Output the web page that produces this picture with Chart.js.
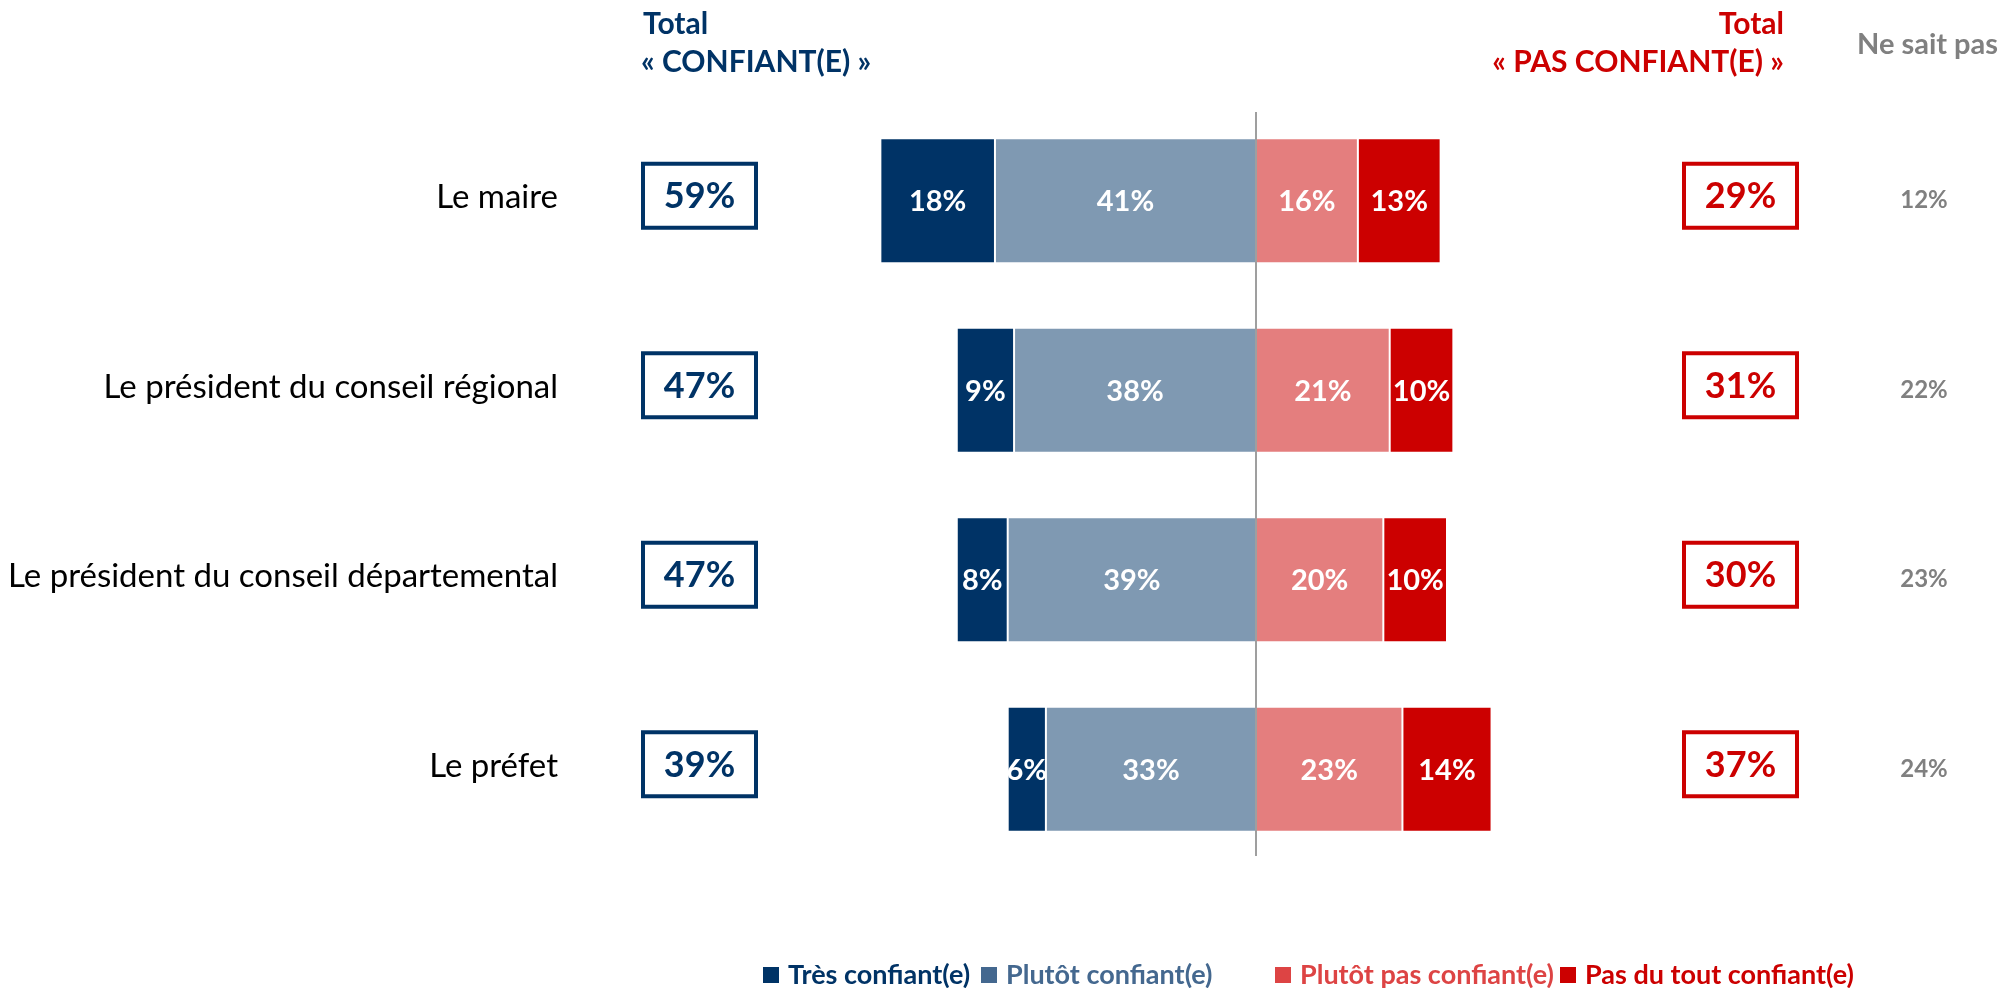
<!DOCTYPE html>
<html lang="fr">
<head>
<meta charset="utf-8">
<title>Confiance envers les élus</title>
<script src="https://cdn.jsdelivr.net/npm/chart.js@4.4.0/dist/chart.umd.min.js"></script>
<style>
  html, body { margin: 0; padding: 0; background: #fff; }
  #graphique { display: block; }
</style>
</head>
<body>
<canvas id="graphique" width="1998" height="988"></canvas>
<script>
// Données
const categories = ['Le maire', 'Le président du conseil régional', 'Le président du conseil départemental', 'Le préfet'];
const tresConfiant = [18, 9, 8, 6];
const plutotConfiant = [41, 38, 39, 33];
const plutotPasConfiant = [16, 21, 20, 23];
const pasDuToutConfiant = [13, 10, 10, 14];
const totalConfiant = [59, 47, 47, 39];
const totalPasConfiant = [29, 31, 30, 37];
const neSaitPas = [12, 22, 23, 24];

// Couleurs
const NAVY = '#003366';
const BLEU_CLAIR = '#7f99b2';
const ROSE = '#e47e7e';
const ROUGE = '#cc0000';
const GRIS = '#808080';
const FONT = 'Lato, "Open Sans", sans-serif';

const graficoEl = document.getElementById('graphique');

// Pourcentages blancs au centre des barres (coupés à la barre, comme l'original)
const etiquettesBarres = {
  id: 'etiquettesBarres',
  afterDatasetsDraw(chart) {
    const ctx = chart.ctx;
    chart.data.datasets.forEach((ds, di) => {
      const meta = chart.getDatasetMeta(di);
      meta.data.forEach((bar, i) => {
        const p = bar.getProps(['x', 'y', 'base', 'height'], true);
        const left = Math.min(p.x, p.base);
        const w = Math.abs(p.x - p.base);
        ctx.save();
        ctx.beginPath();
        ctx.rect(left, p.y - p.height / 2, w, p.height);
        ctx.clip();
        ctx.fillStyle = '#fff';
        ctx.font = 'bold 29px ' + FONT;
        ctx.textAlign = 'center';
        ctx.textBaseline = 'middle';
        ctx.fillText(ds.valeurs[i] + '%', left + w / 2, p.y + 1);
        ctx.restore();
      });
    });
  }
};

// Ligne verticale, libellés, totaux, en-têtes et légende
const decor = {
  id: 'decor',
  afterDraw(chart) {
    const ctx = chart.ctx;
    const xs = chart.scales.x;
    const ys = chart.scales.y;
    const x0 = xs.getPixelForValue(0);

    ctx.save();
    ctx.strokeStyle = '#7f7f7f';
    ctx.lineWidth = 1.5;
    ctx.beginPath();
    ctx.moveTo(x0, chart.chartArea.top + 6);
    ctx.lineTo(x0, chart.chartArea.bottom - 8);
    ctx.stroke();

    ctx.textBaseline = 'middle';
    categories.forEach((cat, i) => {
      const y = ys.getPixelForValue(i);

      ctx.fillStyle = '#000';
      ctx.font = '33px ' + FONT;
      ctx.textAlign = 'right';
      ctx.fillText(cat, 558, y - 3);

      // cadre total confiant
      ctx.lineWidth = 4;
      ctx.strokeStyle = NAVY;
      ctx.strokeRect(643, y - 37, 113, 64);
      ctx.fillStyle = NAVY;
      ctx.font = 'bold 36px ' + FONT;
      ctx.textAlign = 'center';
      ctx.fillText(totalConfiant[i] + '%', 699.5, y - 4);

      // cadre total pas confiant
      ctx.strokeStyle = ROUGE;
      ctx.strokeRect(1684, y - 37, 113, 64);
      ctx.fillStyle = ROUGE;
      ctx.fillText(totalPasConfiant[i] + '%', 1740.5, y - 4);

      // ne sait pas
      ctx.fillStyle = GRIS;
      ctx.font = 'bold 24px ' + FONT;
      ctx.fillText(neSaitPas[i] + '%', 1924, y);
    });

    // en-têtes
    ctx.font = 'bold 30px ' + FONT;
    ctx.textAlign = 'left';
    ctx.fillStyle = NAVY;
    ctx.fillText('Total', 643, 24);
    ctx.fillText('« CONFIANT(E) »', 641, 62);
    ctx.textAlign = 'right';
    ctx.fillStyle = ROUGE;
    ctx.fillText('Total', 1784, 24);
    ctx.fillText('« PAS CONFIANT(E) »', 1784, 62);
    ctx.textAlign = 'left';
    ctx.fillStyle = GRIS;
    ctx.font = 'bold 29px ' + FONT;
    ctx.fillText('Ne sait pas', 1857, 45);

    // légende
    const legende = [
      { txt: 'Très confiant(e)', carre: NAVY, coul: NAVY, x: 763 },
      { txt: 'Plutôt confiant(e)', carre: '#44688f', coul: '#44688f', x: 981 },
      { txt: 'Plutôt pas confiant(e)', carre: '#dd4444', coul: '#dd4444', x: 1275 },
      { txt: 'Pas du tout confiant(e)', carre: ROUGE, coul: ROUGE, x: 1560 }
    ];
    ctx.font = 'bold 27px ' + FONT;
    legende.forEach(l => {
      ctx.fillStyle = l.carre;
      ctx.fillRect(l.x, 967, 16, 16);
      ctx.fillStyle = l.coul;
      ctx.fillText(l.txt, l.x + 25, 975);
    });
    ctx.restore();
  }
};

// Jeux de données : valeurs négatives à gauche de l'axe
const datasets = [
  { label: 'Plutôt confiant(e)', valeurs: plutotConfiant, data: plutotConfiant.map(v => -v), backgroundColor: BLEU_CLAIR },
  { label: 'Très confiant(e)', valeurs: tresConfiant, data: tresConfiant.map(v => -v), backgroundColor: NAVY },
  { label: 'Plutôt pas confiant(e)', valeurs: plutotPasConfiant, data: plutotPasConfiant, backgroundColor: ROSE },
  { label: 'Pas du tout confiant(e)', valeurs: pasDuToutConfiant, data: pasDuToutConfiant, backgroundColor: ROUGE }
].map(d => Object.assign(d, {
  borderColor: '#ffffff',
  borderWidth: 1,
  borderSkipped: false,
  categoryPercentage: 1,
  barPercentage: 0.66
}));

new Chart(graficoEl, {
  type: 'bar',
  data: { labels: categories, datasets: datasets },
  options: {
    indexAxis: 'y',
    responsive: false,
    devicePixelRatio: 1,
    animation: false,
    layout: { padding: { left: 874, right: 360, top: 106, bottom: 124 } },
    scales: {
      x: { stacked: true, min: -60, max: 60, display: false },
      y: { stacked: true, display: false }
    },
    plugins: {
      legend: { display: false },
      tooltip: { enabled: false }
    }
  },
  plugins: [etiquettesBarres, decor]
});
</script>
</body>
</html>
